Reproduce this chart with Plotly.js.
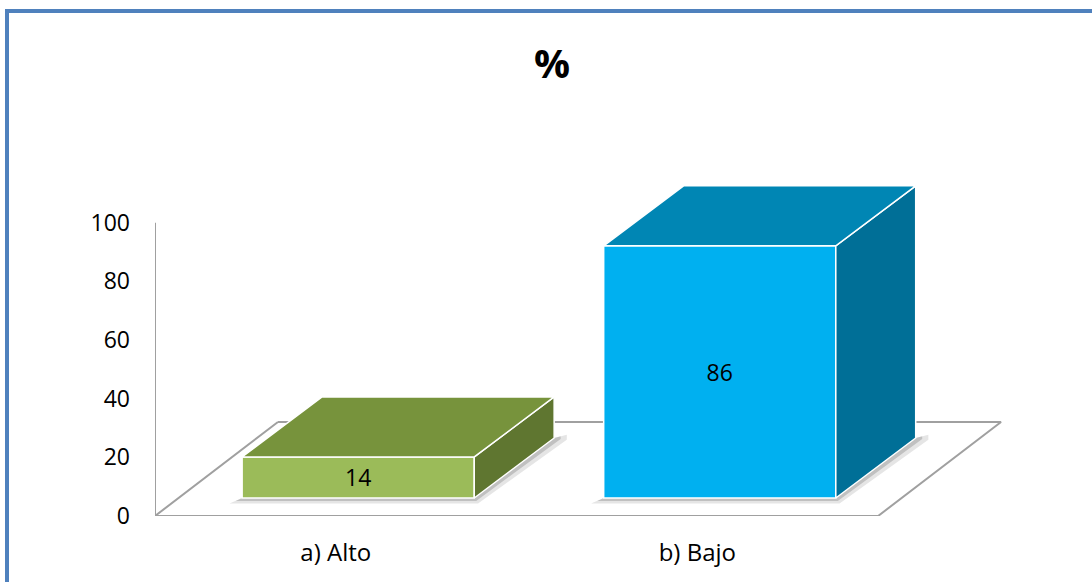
<!DOCTYPE html>
<html>
<head>
<meta charset="utf-8">
<script src="https://cdn.plot.ly/plotly-3.0.1.min.js"></script>
<style>
  html, body { margin: 0; padding: 0; background: #fff; }
  #chart { position: absolute; left: 0; top: 0; width: 1092px; height: 582px; }
  #frame { position: absolute; left: 5px; top: 9px; width: 1200px; height: 700px;
           border-left: 4px solid #4F81BD; border-top: 4px solid #4F81BD; pointer-events: none; }
</style>
</head>
<body>
<div id="chart"></div>
<div id="frame"></div>
<script>
// ---- data ----
const categories = ['a) Alto', 'b) Bajo'];
const values = [14, 86];
const yTicks = [0, 20, 40, 60, 80, 100];
const chartTitle = '%';

// ---- style / geometry constants ----
const frontColors = ['#9BBB59', '#00B0F0'];
const topColors = ['#77933C', '#0086B4'];
const sideColors = ['#5F7630', '#006F97'];
const floorColor = '#A0A0A0';
const halfW = 0.321;        // half bar width (x units)
const fx = 0.062, fy = 6.14; // front face offset into depth
const bx = fx + 0.221, by = fy + 20.46; // back face offset
const floorDX = 0.340, floorDY = 32.06;  // floor depth
const xMin = -0.5, xMaxFront = 1.5;
const xRange = [-0.5, 1.898];
const yRange = [0, 118];
const font = 'Open Sans, Liberation Sans, sans-serif';

const traces = [];

// floor parallelogram + vertical axis line (main subplot, below the bars)
traces.push({
  type: 'scatter', mode: 'lines', xaxis: 'x', yaxis: 'y', hoverinfo: 'skip', showlegend: false,
  x: [xMin + floorDX, xMin, xMaxFront, xMaxFront + floorDX, xMin + floorDX],
  y: [floorDY, 0, 0, floorDY, floorDY],
  line: { color: floorColor, width: 2 }
});
traces.push({
  type: 'scatter', mode: 'lines', xaxis: 'x', yaxis: 'y', hoverinfo: 'skip', showlegend: false,
  x: [xMin, xMin], y: [0, yTicks[yTicks.length - 1]],
  line: { color: floorColor, width: 2 }
});

// soft shadows under the bars (main subplot, below the bars)
values.forEach((v, i) => {
  const L = i - halfW, R = i + halfW;
  [[0.035, 1.9, 0.10], [0.018, 1.0, 0.16]].forEach(([ex, ey, a]) => {
    traces.push({
      type: 'scatter', mode: 'lines', xaxis: 'x', yaxis: 'y', hoverinfo: 'skip', showlegend: false,
      x: [L + fx - ex, R + fx + ex * 0.3, R + bx + ex, R + bx + ex, R + bx, R + fx, L + fx, L + fx - ex],
      y: [fy - ey, fy - ey, by - ey * 0.3, by + ey * 0.6, by, fy, fy, fy - ey],
      fill: 'toself', fillcolor: 'rgba(0,0,0,' + a + ')', line: { width: 0 }
    });
  });
});

// front faces as bars (overlay subplot)
traces.push({
  type: 'bar', xaxis: 'x2', yaxis: 'y2', showlegend: false, hoverinfo: 'skip',
  x: categories.map((c, i) => i + fx),
  y: values,
  base: values.map(() => fy),
  width: 2 * halfW,
  marker: { color: frontColors, line: { color: '#FFFFFF', width: 1.5 } },
  text: values.map(String),
  textposition: 'inside', insidetextanchor: 'middle', constraintext: 'none',
  textfont: { family: font, size: 23, color: '#000000' }
});

// side and top faces
values.forEach((v, i) => {
  const L = i - halfW, R = i + halfW;
  traces.push({
    type: 'scatter', mode: 'lines', xaxis: 'x2', yaxis: 'y2', hoverinfo: 'skip', showlegend: false,
    x: [R + fx, R + bx, R + bx, R + fx, R + fx],
    y: [fy, by, v + by, v + fy, fy],
    fill: 'toself', fillcolor: sideColors[i], line: { color: '#FFFFFF', width: 1.5 }
  });
  traces.push({
    type: 'scatter', mode: 'lines', xaxis: 'x2', yaxis: 'y2', hoverinfo: 'skip', showlegend: false,
    x: [L + fx, R + fx, R + bx, L + bx, L + fx],
    y: [v + fy, v + fy, v + by, v + by, v + fy],
    fill: 'toself', fillcolor: topColors[i], line: { color: '#FFFFFF', width: 1.5 }
  });
});

const layout = {
  width: 1092, height: 582,
  margin: { l: 155, r: 70, t: 170, b: 66, pad: 0 },
  paper_bgcolor: '#FFFFFF', plot_bgcolor: 'rgba(0,0,0,0)',
  showlegend: false,
  title: {
    text: '<b>' + chartTitle + '</b>',
    x: 0.5055, xanchor: 'center', y: 0.89, yanchor: 'middle',
    font: { family: font, size: 40, color: '#000000' }
  },
  xaxis: {
    range: xRange, tickvals: categories.map((c, i) => i), ticktext: categories,
    showgrid: false, zeroline: false, showline: false, ticks: '',
    ticklabelstandoff: 20,
    tickfont: { family: font, size: 24, color: '#000000' }, fixedrange: true
  },
  yaxis: {
    range: yRange, tickvals: yTicks, ticktext: yTicks.map(String),
    showgrid: false, zeroline: false, showline: false, ticks: '',
    ticklabelstandoff: 24,
    tickfont: { family: font, size: 23, color: '#000000' }, fixedrange: true
  },
  xaxis2: { range: xRange, overlaying: 'x', visible: false, fixedrange: true },
  yaxis2: { range: yRange, overlaying: 'y', visible: false, fixedrange: true },
  bargap: 0
};

Plotly.newPlot('chart', traces, layout, { displayModeBar: false, staticPlot: true });
</script>
</body>
</html>
